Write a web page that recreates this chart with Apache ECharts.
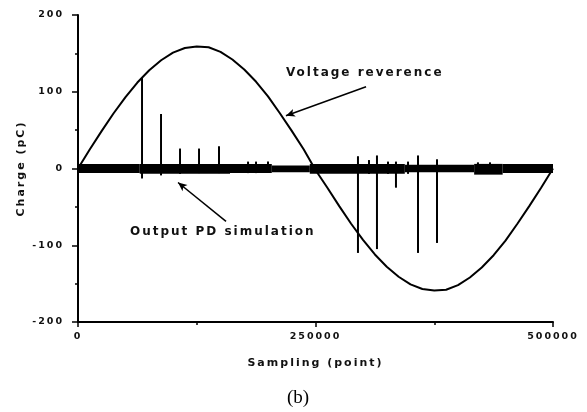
<!DOCTYPE html>
<html><head><meta charset="utf-8">
<script src="https://cdn.jsdelivr.net/npm/echarts@6/dist/echarts.min.js"></script>
<style>html,body{margin:0;padding:0;background:#fff}#c{width:587px;height:412px}</style>
</head><body><div id="c"></div>
<script>
// Voltage reference waveform (sampling point -> charge, pC)
const refSamples = [0,12500,25000,37500,50000,62500,75000,87500,100000,112500,125000,
  137500,150000,162500,175000,187500,200000,212500,225000,237500,250000,
  262500,275000,287500,300000,312500,325000,337500,350000,362500,375000,
  387500,400000,412500,425000,437500,450000,462500,475000,487500,500000];
const refCharge = [0,25,49,72,93,112,128,141,151,157,159,
  158,152,142,129,113,94,72,49,25,-2,
  -25,-49,-72,-93,-112,-128,-141,-151,-157,-159,
  -158,-152,-142,-129,-113,-94,-72,-49,-25,0];

// Background noise of the PD output: [from, to, upper, lower]
const noiseBand = [
  [0,65000,6,-6],[65000,160000,6,-7],[160000,204000,6,-6],[204000,244000,4,-5],
  [244000,344000,6,-7],[344000,417000,5,-5],[417000,447000,6,-8],[447000,500000,6,-6]
];
// PD pulses: [sample, high, low]
const pdPulses = [
  [67400,118,-13],[87400,71,-9],[107400,26,-7],[127400,26,-6],[148400,29,-6],
  [179000,9,-6],[187400,9,-6],[200000,9,-6],
  [294700,16,-110],[306300,11,-7],[314700,17,-105],[326300,9,-7],[334700,9,-25],
  [347400,9,-7],[357900,17,-110],[377900,12,-97],[421000,8,-6],[433700,8,-6]
];

// Spaced lettering for the sans-serif chart text
const SPACING = '2px';
const CTX = CanvasRenderingContext2D.prototype;
const hasLS = 'letterSpacing' in CTX;
function spacingFor(font){ return /Serif/.test(font || '') ? '0px' : SPACING; }
if (hasLS) {
  const origFill = CTX.fillText, origMeasure = CTX.measureText;
  CTX.fillText = function(){ this.letterSpacing = spacingFor(this.font); return origFill.apply(this, arguments); };
  CTX.measureText = function(){ this.letterSpacing = spacingFor(this.font); return origMeasure.apply(this, arguments); };
}
const fs = hasLS ? {tick:9.5, name:11, note:12} : {tick:11, name:13, note:14};

const chart = echarts.init(document.getElementById('c'), null, {renderer:'canvas'});
const fontFam = 'DejaVu Sans';
const txt = {color:'#111', fontFamily:fontFam, fontWeight:'bold'};

chart.setOption({
  animation:false,
  backgroundColor:'#fff',
  grid:{left:78, right:34, top:15, bottom:90, containLabel:false},
  xAxis:{
    type:'value', min:0, max:500000, interval:250000,
    name:'Sampling (point)', nameLocation:'middle', nameGap:35,
    nameTextStyle:Object.assign({fontSize:fs.name}, txt),
    axisLine:{show:true, onZero:false, lineStyle:{color:'#000', width:2}},
    axisTick:{show:true, length:5, inside:false, lineStyle:{color:'#000', width:1.5}},
    minorTick:{show:true, splitNumber:2, length:3, lineStyle:{color:'#000', width:1.5}},
    axisLabel:Object.assign({fontSize:fs.tick, margin:9, formatter:function(v){return String(v);}}, txt),
    splitLine:{show:false}
  },
  yAxis:{
    type:'value', min:-200, max:200, interval:100,
    name:'Charge (pC)', nameLocation:'middle', nameGap:50, nameRotate:90,
    nameMoveOverlap:false,
    nameTextStyle:Object.assign({fontSize:fs.name}, txt),
    axisLine:{show:true, onZero:false, lineStyle:{color:'#000', width:2}},
    axisTick:{show:true, length:6, inside:false, lineStyle:{color:'#000', width:1.5}},
    minorTick:{show:true, splitNumber:2, length:3, lineStyle:{color:'#000', width:1.5}},
    axisLabel:Object.assign({fontSize:fs.tick, margin:14, formatter:function(v){return String(v);}}, txt),
    splitLine:{show:false}
  },
  series:[
    {
      type:'custom', name:'noise', coordinateSystem:'cartesian2d',
      data:noiseBand, encode:{x:[0,1], y:[2,3]},
      renderItem:function(params, api){
        const p0 = api.coord([api.value(0), api.value(2)]);
        const p1 = api.coord([api.value(1), api.value(3)]);
        return {type:'rect', shape:{x:p0[0], y:p0[1], width:p1[0]-p0[0], height:p1[1]-p0[1]},
          style:{fill:'#000'}};
      }
    },
    {
      type:'custom', name:'pulses', coordinateSystem:'cartesian2d',
      data:pdPulses, encode:{x:0, y:[1,2]},
      renderItem:function(params, api){
        const a = api.coord([api.value(0), api.value(1)]);
        const b = api.coord([api.value(0), api.value(2)]);
        return {type:'line', shape:{x1:a[0], y1:a[1], x2:b[0], y2:b[1]},
          style:{stroke:'#000', lineWidth:2}};
      }
    },
    {
      type:'line', name:'Voltage reverence',
      data:refSamples.map((s,i)=>[s, refCharge[i]]),
      showSymbol:false, smooth:false,
      lineStyle:{color:'#000', width:2},
      markLine:{
        silent:true, symbol:['none','arrow'], symbolSize:[6,9],
        label:{show:false},
        lineStyle:{color:'#000', width:1.5, type:'solid'},
        data:[
          [{coord:[303200,106.5]},{coord:[218900,68.8]}],
          [{coord:[155800,-68.8]},{coord:[105300,-18.2]}]
        ]
      }
    }
  ]
});

// Annotation texts and caption
const pV = chart.convertToPixel({gridIndex:0}, [218900,124.7]);
const pO = chart.convertToPixel({gridIndex:0}, [54700,-83]);
chart.setOption({
  graphic:[
    {type:'text', x:pV[0], y:pV[1], style:{text:'Voltage reverence', fontSize:fs.note,
      fontFamily:fontFam, fontWeight:'bold', textVerticalAlign:'middle', fill:'#111'}},
    {type:'text', x:pO[0], y:pO[1], style:{text:'Output PD simulation', fontSize:fs.note,
      fontFamily:fontFam, fontWeight:'bold', textVerticalAlign:'middle', fill:'#111'}},
    {type:'text', x:298, y:398, style:{text:'(b)', fontSize:19, fontFamily:'Liberation Serif',
      textAlign:'center', textVerticalAlign:'middle', fill:'#000'}}
  ]
});
</script>
</body></html>
